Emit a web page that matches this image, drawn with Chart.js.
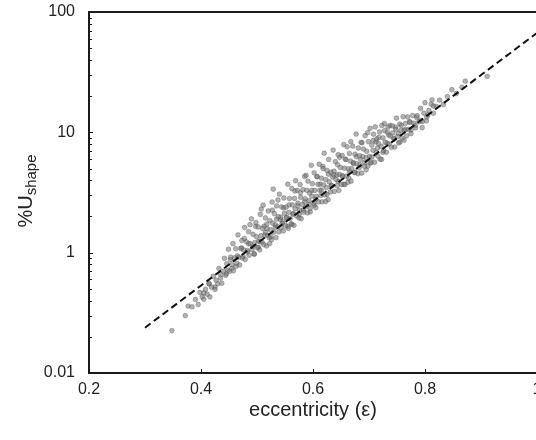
<!DOCTYPE html>
<html><head><meta charset="utf-8">
<script src="https://cdn.jsdelivr.net/npm/chart.js@4.4.1/dist/chart.umd.min.js"></script>
<style>
html,body{margin:0;padding:0;overflow:hidden;background:#fff;width:536px;height:440px}
#wrap{width:560px;height:440px;position:relative}
canvas{display:block}
</style></head><body><div id="wrap"><canvas id="c" width="560" height="440"></canvas></div>
<script>
const xTickValues = [0.2, 0.4, 0.6, 0.8, 1.0];
const xTickLabels = ['0.2', '0.4', '0.6', '0.8', '1'];
const yTickValues = [0.1, 1, 10, 100];
const yTickLabels = ['0.01', '1', '10', '100'];
const xTitle = 'eccentricity (\u03b5)';
const yTitleMain = '%U';
const yTitleSub = 'shape';

// dashed fit line end points
const fitX = [0.3, 1.0];
const fitY = [0.238, 67];

// scatter points (outer cloud)
const scatterX = [
  0.348,0.372,0.377,0.384,0.390,0.395,0.398,
  0.402,0.405,0.408,0.411,0.414,0.416,0.419,0.422,0.425,0.427,0.430,0.432,0.435,0.437,0.440,0.442,0.444,0.446,0.448,0.449,
  0.451,0.453,0.455,0.457,0.458,0.460,0.462,0.464,0.466,0.467,0.469,0.471,0.473,0.474,0.476,0.478,0.479,0.481,0.483,0.485,0.486,0.488,0.490,0.491,0.493,0.495,0.496,0.498,0.499,
  0.501,0.502,0.503,0.505,0.506,0.507,0.509,0.510,0.511,0.512,0.514,0.515,0.517,0.518,0.519,0.520,0.522,0.523,0.524,0.526,0.527,0.528,0.529,0.530,0.531,0.533,0.534,0.535,0.537,0.538,0.539,0.540,0.542,0.543,0.544,0.546,0.547,0.548,0.549,
  0.551,0.552,0.553,0.555,0.556,0.557,0.558,0.559,0.561,0.562,0.563,0.564,0.566,0.567,0.568,0.569,0.571,0.572,0.573,0.575,0.576,0.577,0.578,0.579,0.581,0.582,0.583,0.585,0.586,0.587,0.589,0.590,0.591,0.593,0.594,0.595,0.597,0.598,0.599,
  0.601,0.602,0.603,0.605,0.606,0.607,0.609,0.610,0.611,0.612,0.614,0.615,0.616,0.618,0.619,0.620,0.621,0.623,0.624,0.625,0.627,0.628,0.629,0.631,0.632,0.634,0.636,0.637,0.638,0.640,0.641,0.643,0.644,0.645,0.646,0.647,0.649,
  0.651,0.652,0.653,0.655,0.656,0.657,0.659,0.660,0.661,0.663,0.664,0.665,0.667,0.668,0.669,0.671,0.672,0.674,0.675,0.677,0.678,0.680,0.681,0.683,0.684,0.686,0.687,0.689,0.690,0.692,0.693,0.695,0.696,0.698,0.699,
  0.701,0.702,0.704,0.705,0.707,0.708,0.710,0.711,0.713,0.714,0.716,0.717,0.719,0.720,0.722,0.723,0.725,0.726,0.728,0.729,0.731,0.733,0.734,0.736,0.738,0.740,0.742,0.744,0.746,0.748,0.749,
  0.751,0.753,0.755,0.757,0.759,0.761,0.763,0.765,0.767,0.769,0.771,0.773,0.775,0.778,0.780,0.783,0.786,0.789,0.792,0.795,0.798,0.800,
  0.803,0.807,0.811,0.815,0.820,0.826,0.833,0.840,0.848,0.856,0.866,0.872,0.911
];
const scatterY = [
  0.225,0.30,0.36,0.355,0.409,0.371,0.467,
  0.43,0.41,0.495,0.452,0.556,0.429,0.517,0.636,0.495,0.59,0.551,0.739,0.615,0.557,0.702,0.898,0.647,0.808,0.716,1.067,
  0.70,0.917,0.793,1.19,0.707,0.905,1.08,0.814,1.405,0.914,0.79,1.084,1.264,0.902,1.054,1.62,0.877,1.23,1.04,1.494,0.95,1.187,1.91,1.059,1.419,0.975,1.209,1.777,1.358,
  1.096,1.634,1.249,1.056,2.077,1.382,1.223,1.589,2.48,1.17,1.397,1.944,1.137,1.582,1.389,2.221,1.328,1.848,1.551,1.28,2.635,1.755,3.372,1.483,2.112,1.704,1.334,2.448,1.643,1.991,1.488,3.064,1.876,1.61,2.402,1.808,1.516,2.847,2.127,
  1.678,2.39,1.96,3.705,1.593,2.166,2.815,1.918,1.737,3.415,2.494,2.091,1.688,2.823,2.314,3.96,2.018,3.299,2.581,1.944,2.251,3.682,2.88,1.918,2.51,3.337,2.171,4.304,2.801,2.403,3.294,2.144,3.934,2.704,3.128,2.338,5.32,2.946,3.741,
  2.57,4.605,3.286,2.365,2.933,4.275,3.697,2.638,5.43,3.298,2.988,4.157,2.645,5.006,3.655,6.705,3.019,4.045,3.472,4.829,2.761,5.947,3.871,3.197,4.659,3.59,7.116,4.422,3.23,5.707,4.069,3.603,5.375,6.512,3.29,4.474,5.102,
  3.671,6.432,4.282,7.919,5.036,3.679,5.924,4.328,7.583,4.974,4.17,6.663,5.765,3.928,4.988,7.671,5.601,4.626,6.587,9.676,5.482,4.531,7.407,6.407,5.372,8.265,4.578,6.276,7.265,5.226,9.374,6.151,6.954,5.238,8.375,
  6.306,10.80,5.628,7.832,7.093,9.649,5.641,11.09,6.788,8.815,6.342,8.051,10.06,5.974,7.647,11.40,8.989,7.035,10.33,8.272,6.834,10.04,11.10,7.985,9.316,7.521,11.31,8.917,7.539,10.57,13.12,
  9.22,8.16,11.72,10.37,8.968,13.48,10.39,11.85,9.35,13.42,10.58,12.07,9.74,13.78,11.93,10.89,13.73,12.25,15.81,12.28,14.43,17.63,
  13.39,15.18,17.18,14.42,16.46,18.51,17.06,19.80,22.62,21.02,23.68,26.61,29.18
];

// additional points in the dense band along the line
const coreX = [
  0.405,0.415,0.425,0.435,0.445,0.455,0.465,0.475,0.485,0.495,0.505,0.515,0.525,0.535,0.545,0.555,0.565,0.575,0.585,0.595,0.605,
  0.615,0.625,0.635,0.645,0.655,0.665,0.675,0.685,0.695,0.705,0.715,0.725,0.735,0.745,0.755,0.765,0.775,0.785,0.795,0.805,0.815,
  0.4525,0.4625,0.4725,0.4825,0.4925,0.5025,0.5125,0.5225,0.5325,0.5425,0.5525,0.5625,0.5725,0.5825,0.5925,0.6025,0.6125,0.6225,0.6325,
  0.6425,0.6525,0.6625,0.6725,0.6825,0.6925,0.7025,0.7125,0.7225,0.7325,0.7425,0.7525,0.7625,0.7725,0.7825,0.7925,0.8025,0.8125
];
const coreY = [
  0.462,0.548,0.518,0.659,0.666,0.740,0.942,0.931,1.186,0.974,1.241,1.474,1.361,1.899,1.753,1.655,2.107,2.084,2.654,2.181,2.779,
  3.301,3.046,4.254,3.923,3.704,4.718,4.664,5.940,4.884,6.221,7.389,6.819,9.522,8.783,8.293,10.56,10.44,13.31,10.94,13.93,16.55,
  0.872,0.768,1.096,1.012,1.122,1.109,1.659,1.189,1.622,1.973,1.951,1.718,2.456,2.265,2.512,2.483,3.717,2.662,3.631,
  4.417,4.367,3.846,5.494,5.069,5.624,5.560,8.318,5.960,8.129,9.886,9.778,8.612,12.30,11.35,12.59,12.45,18.62
];

// additional points in the upper scatter band
const upperX = [
  0.4775,0.4875,0.4975,0.5075,0.5175,0.5275,0.5375,0.5475,0.5575,0.5675,0.5775,0.5875,0.5975,0.6075,0.6175,
  0.6275,0.6375,0.6475,0.6575,0.6675,0.6775,0.6875,0.6975,0.7075,0.7175,0.7275,0.7375,0.7475,0.7575
];
const upperY = [
  1.310,1.709,1.652,2.304,1.727,2.253,2.739,2.359,2.498,3.254,3.147,4.393,3.292,4.292,5.218,
  4.494,4.759,6.202,5.994,8.368,6.274,8.179,9.942,8.562,9.067,11.82,11.42,11.03,11.40
];

const FONT = "'Liberation Sans', Arial, Helvetica, sans-serif";

const framePlugin = {
  id: 'framePlugin',
  afterDatasetsDraw(chart) {
    const ctx = chart.ctx;
    const a = chart.chartArea;
    const xs = chart.scales.x, ys = chart.scales.y;
    ctx.save();
    ctx.strokeStyle = '#1a1a1a';
    ctx.lineWidth = 1;
    for (let d = 0.1; d < 99; d *= 10) {
      for (let m = 1; m < 10; m++) {
        const v = d * m;
        const py = Math.round(ys.getPixelForValue(v)) + 0.5;
        const len = m === 1 ? 4 : 3;
        ctx.beginPath(); ctx.moveTo(a.left, py); ctx.lineTo(a.left + len, py); ctx.stroke();
      }
    }
    xTickValues.forEach(v => {
      const px = Math.round(xs.getPixelForValue(v)) + 0.5;
      ctx.beginPath(); ctx.moveTo(px, a.bottom); ctx.lineTo(px, a.bottom - 4); ctx.stroke();
    });
    ctx.lineWidth = 2;
    ctx.strokeRect(a.left, a.top, a.right - a.left, a.bottom - a.top);
    ctx.restore();
  },
  afterDraw(chart) {
    const ctx = chart.ctx;
    ctx.save();
    ctx.fillStyle = '#222';
    ctx.translate(0, 191);
    ctx.rotate(-Math.PI / 2);
    ctx.textBaseline = 'alphabetic';
    ctx.textAlign = 'left';
    ctx.font = '20px ' + FONT;
    const w1 = ctx.measureText(yTitleMain).width;
    ctx.font = '15px ' + FONT;
    const w2 = ctx.measureText(yTitleSub).width;
    const start = -(w1 + w2) / 2;
    ctx.font = '20px ' + FONT;
    ctx.fillText(yTitleMain, start, 32);
    ctx.font = '15px ' + FONT;
    ctx.fillText(yTitleSub, start + w1, 36);
    ctx.restore();
  }
};

const pointStyle = {
  type: 'scatter',
  pointRadius: 2.4,
  backgroundColor: 'rgba(115,115,115,0.55)',
  borderColor: 'rgba(70,70,70,0.55)',
  borderWidth: 0.6,
  order: 1
};
const toPts = (xs, ys) => xs.map((x, i) => ({ x: x, y: ys[i] }));

new Chart(document.getElementById('c'), {
  data: {
    datasets: [
      {
        type: 'line',
        data: toPts(fitX, fitY),
        borderColor: '#111',
        borderWidth: 2,
        borderDash: [7, 4],
        pointRadius: 0,
        fill: false,
        order: 0
      },
      Object.assign({ data: toPts(scatterX, scatterY) }, pointStyle),
      Object.assign({ data: toPts(coreX, coreY) }, pointStyle),
      Object.assign({ data: toPts(upperX, upperY) }, pointStyle)
    ]
  },
  options: {
    responsive: false,
    animation: false,
    layout: { padding: { left: 0, right: 23, top: 12, bottom: 0 } },
    plugins: { legend: { display: false }, tooltip: { enabled: false } },
    scales: {
      x: {
        type: 'linear',
        min: 0.2, max: 1.0,
        grid: { display: false, drawTicks: false },
        border: { display: false },
        afterBuildTicks: s => { s.ticks = xTickValues.map(v => ({ value: v })); },
        afterFit: s => { s.height = 67; s.paddingLeft = 0; s.paddingRight = 0; },
        ticks: {
          padding: 7,
          autoSkip: false,
          maxRotation: 0,
          color: '#222',
          font: { family: FONT, size: 16 },
          callback: (v, i) => xTickLabels[i]
        },
        title: {
          display: true,
          text: xTitle,
          color: '#222',
          font: { family: FONT, size: 20 },
          padding: { top: 0, bottom: 18 }
        }
      },
      y: {
        type: 'logarithmic',
        min: 0.1, max: 100,
        grid: { display: false, drawTicks: false },
        border: { display: false },
        afterBuildTicks: s => { s.ticks = yTickValues.map(v => ({ value: v })); },
        afterFit: s => { s.width = 89; s.paddingTop = 0; s.paddingBottom = 0; },
        ticks: {
          padding: 14,
          autoSkip: false,
          color: '#222',
          font: { family: FONT, size: 16 },
          callback: (v, i) => yTickLabels[i]
        }
      }
    }
  },
  plugins: [framePlugin]
});
</script>
</body></html>
